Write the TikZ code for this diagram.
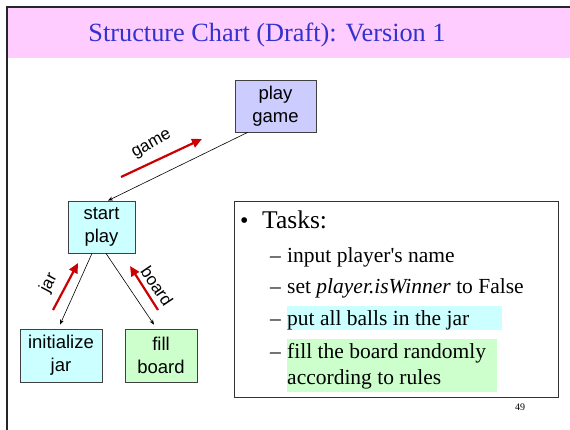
\documentclass[tikz,border=0pt]{standalone}
\usepackage{fontspec}
\setmainfont{Liberation Serif}
\newfontfamily\boxfont{Liberation Sans}
\usetikzlibrary{arrows.meta}
\definecolor{titlepink}{HTML}{FFCCFF}
\definecolor{titleblue}{HTML}{3333CC}
\definecolor{lilac}{HTML}{CCCCFF}
\definecolor{paleaqua}{HTML}{CCFFFF}
\definecolor{palegreen}{HTML}{CCFFCC}
\definecolor{flowred}{HTML}{CC0000}
\tikzset{
  module/.style={draw=black!75, line width=0.8pt, align=center, inner sep=0pt,
    font=\boxfont\fontsize{18.5}{23}\selectfont},
  call/.style={line width=0.6pt, -{Stealth[length=5pt,width=4pt]}},
  flow/.style={draw=flowred, line width=2.2pt, -{Triangle[length=10pt,width=9pt]}},
  flowlabel/.style={font=\boxfont\fontsize{17}{20}\selectfont, inner sep=0pt},
  task/.style={anchor=base west, inner sep=0pt, font=\fontsize{21.5}{25}\selectfont},
}
\begin{document}
\begin{tikzpicture}[x=1pt,y=-1pt]
\useasboundingbox (0,0) rectangle (570,430);
\fill[white] (0,0) rectangle (570,430);
% title band and slide frame
\fill[titlepink] (8,8) rectangle (570,58);
\draw[line width=2.5pt, black!85] (7,430) -- (7,7) -- (570,7);
\node[text=titleblue, font=\fontsize{26.3}{32}\selectfont, inner sep=0pt] (title) at (267,35) {Structure Chart (Draft): Version 1};

% modules
\node[module, fill=lilac, minimum width=81pt, minimum height=52pt] (play) at (275.5,106) {play\\game};
\node[module, fill=paleaqua, minimum width=67pt, minimum height=52pt] (start) at (101.5,227) {start\\play};
\node[module, fill=paleaqua, minimum width=82pt, minimum height=53pt] (init) at (61,355.5) {initialize\\jar};
\node[module, fill=palegreen, minimum width=72pt, minimum height=53pt] (fill) at (161,355.5) {fill\\board};

% calls
\draw[call] ([xshift=13pt]play.south west) -- ([xshift=6.5pt]start.north);
\draw[call] ([xshift=-9.5pt]start.south) -- ([xshift=-1pt,yshift=4pt]init.north);
\draw[call] ([xshift=4.5pt]start.south) -- ([xshift=-7pt,yshift=4pt]fill.north);

% data couples
\coordinate (g0) at (121,177);
\coordinate (g1) at (202,139);
\coordinate (j0) at (53,310);
\coordinate (j1) at (78,263);
\coordinate (b0) at (158,310);
\coordinate (b1) at (130,266);
\draw[flow] (g0) -- (g1);
\draw[flow] (j0) -- (j1);
\draw[flow] (b0) -- (b1);
\node[flowlabel, rotate=29] (glabel) at (152,145) {game};
\node[flowlabel, rotate=62] (jlabel) at (49,283) {jar};
\node[flowlabel, rotate=-56] (blabel) at (157,286) {board};

% task list
\node[draw=black!80, line width=0.7pt, minimum width=324pt, minimum height=196pt, inner sep=0pt] (tasks) at (396,299) {};
\fill[paleaqua] (287,306) rectangle (502,330);
\fill[palegreen] (287,339) rectangle (497,392);
\node[anchor=base west, inner sep=0pt, font=\fontsize{24}{28}\selectfont] (bullet) at (240,229) {\textbullet};
\node[anchor=base west, inner sep=0pt, font=\fontsize{25.5}{28}\selectfont] (head) at (262,229) {Tasks:};
\node[task] (d1) at (270,262) {–};
\node[task] (t1) at (287,262) {input player\textquotesingle s name};
\node[task] (d2) at (270,294) {–};
\node[task] (t2) at (287,294) {set \textit{player.isWinner} to False};
\node[task] (d3) at (270,325) {–};
\node[task] (t3) at (287,325) {put all balls in the jar};
\node[task] (d4) at (270,358) {–};
\node[task] (t4) at (287,358) {fill the board randomly};
\node[task] (t5) at (287,384) {according to rules};
\node[font=\fontsize{10}{12}\selectfont, inner sep=0pt] (page) at (520,407) {49};
\end{tikzpicture}
\end{document}
